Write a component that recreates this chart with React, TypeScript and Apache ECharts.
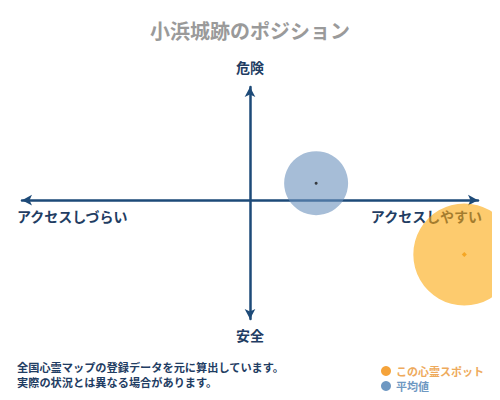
import { useEffect, useRef } from 'react';
import * as echarts from 'echarts';

const titleText = '小浜城跡のポジション';
const axisNames = { top: '危険', bottom: '安全', left: 'アクセスしづらい', right: 'アクセスしやすい' };
const noteLines = ['全国心霊マップの登録データを元に算出しています。', '実際の状況とは異なる場合があります。'];
const seriesNames = ['この心霊スポット', '平均値'];
// [access, danger]
const spotPoint = [0.94, -0.48];
const averagePoint = [0.29, 0.15];
const spotSize = 102;
const averageSize = 64;

const FONT = '"Noto Sans CJK JP", sans-serif';
const NAVY = '#1f3d63';

const App = () => {
  const chartRef = useRef<HTMLDivElement>(null);

  useEffect(() => {
    if (!chartRef.current) return;
    const chart = echarts.init(chartRef.current, null, { renderer: 'svg' });

    const axisLine = {
      onZero: true,
      symbol: ['arrow', 'arrow'],
      symbolSize: [8, 10],
      lineStyle: { color: '#1d4a78', width: 2.5 },
    };

    chart.setOption({
      animation: false,
      textStyle: { fontFamily: FONT },
      title: {
        text: titleText,
        left: 'center',
        top: 15,
        textStyle: { fontFamily: FONT, fontSize: 20, fontWeight: 'bold', color: '#9a9a9a' },
      },
      grid: { left: 22, right: 22, top: 87, bottom: 81 },
      xAxis: {
        type: 'value',
        min: -1,
        max: 1,
        axisLine,
        axisTick: { show: false },
        axisLabel: { show: false },
        splitLine: { show: false },
      },
      yAxis: {
        type: 'value',
        min: -1.05,
        max: 1,
        axisLine,
        axisTick: { show: false },
        axisLabel: { show: false },
        splitLine: { show: false },
      },
      legend: {
        orient: 'vertical',
        left: 376,
        top: 360,
        itemWidth: 10,
        itemHeight: 10,
        itemGap: 3,
        icon: 'circle',
        selectedMode: false,
        data: [
          { name: seriesNames[0], itemStyle: { color: '#f5a33a', opacity: 1 }, textStyle: { color: '#eeaa5c' } },
          { name: seriesNames[1], itemStyle: { color: '#6e98c2', opacity: 1 }, textStyle: { color: '#6e98c2' } },
        ],
        textStyle: { fontFamily: FONT, fontSize: 11, fontWeight: 'bold', lineHeight: 12 },
      },
      graphic: [
        {
          type: 'text', z: 1, x: 250, y: 67,
          style: { text: axisNames.top, fill: NAVY, font: `bold 14px ${FONT}`, textAlign: 'center', textVerticalAlign: 'middle' },
        },
        {
          type: 'text', z: 1, x: 250, y: 335,
          style: { text: axisNames.bottom, fill: NAVY, font: `bold 14px ${FONT}`, textAlign: 'center', textVerticalAlign: 'middle' },
        },
        {
          type: 'text', z: 1, x: 17, y: 216,
          style: { text: axisNames.left, fill: NAVY, font: `bold 14px ${FONT}`, textAlign: 'left', textVerticalAlign: 'middle' },
        },
        {
          type: 'text', z: 1, x: 482, y: 216,
          style: { text: axisNames.right, fill: NAVY, font: `bold 14px ${FONT}`, textAlign: 'right', textVerticalAlign: 'middle' },
        },
        {
          type: 'text', z: 1, x: 17, y: 367,
          style: { text: noteLines[0], fill: NAVY, font: `bold 11.2px ${FONT}`, textVerticalAlign: 'middle' },
        },
        {
          type: 'text', z: 1, x: 17, y: 382,
          style: { text: noteLines[1], fill: NAVY, font: `bold 11.2px ${FONT}`, textVerticalAlign: 'middle' },
        },
      ],
      series: [
        {
          name: seriesNames[0],
          type: 'scatter',
          z: 3,
          symbolSize: spotSize,
          data: [spotPoint],
          itemStyle: { color: '#fca80d', opacity: 0.6 },
          silent: true,
        },
        {
          name: seriesNames[1],
          type: 'scatter',
          z: 3,
          symbolSize: averageSize,
          data: [averagePoint],
          itemStyle: { color: '#6b91bc', opacity: 0.6 },
          silent: true,
        },
        {
          type: 'scatter',
          z: 4,
          symbol: 'diamond',
          symbolSize: 5,
          data: [spotPoint],
          itemStyle: { color: '#f39c12' },
          silent: true,
        },
        {
          type: 'scatter',
          z: 4,
          symbolSize: 3,
          data: [averagePoint],
          itemStyle: { color: '#1a1a1a' },
          silent: true,
        },
      ],
    });

    return () => {
      chart.dispose();
    };
  }, []);

  return <div ref={chartRef} style={{ width: '500px', height: '400px', margin: '-8px' }} />;
};

export default App;
